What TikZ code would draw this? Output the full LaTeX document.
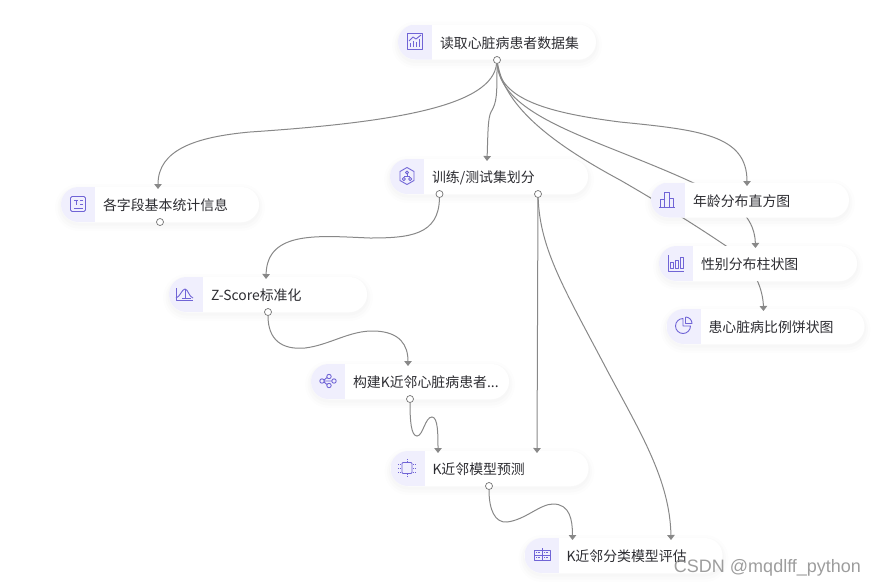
\documentclass[tikz,border=0pt]{standalone}
\usepackage{fontspec}
\usepackage{xcolor}
\usepackage{tikz}
\usetikzlibrary{arrows.meta, calc}
\newfontfamily\cjkfont{Noto Sans CJK SC}
\newfontfamily\markfont{Liberation Sans}
\definecolor{myink}{RGB}{45,45,50}
\definecolor{myedge}{RGB}{136,136,136}
\definecolor{iconbg}{RGB}{240,239,253}
\definecolor{iconline}{RGB}{112,100,214}
\definecolor{markgray}{RGB}{140,140,140}
\tikzset{
  pill/.style={rectangle, fill=white, rounded corners=17.5pt,
    minimum width=198pt, minimum height=35pt, inner ysep=0pt, inner xsep=6pt,
    text width=186pt, align=left, text=myink,
    text height=14pt, text depth=2pt,
    font=\cjkfont\fontsize{13.9}{16}\selectfont,
    execute at begin node={\hspace*{36pt}},
    preaction={draw=black, draw opacity=.008, line width=12pt, transform canvas={yshift=-3pt}},
    preaction={draw=black, draw opacity=.010, line width=7pt, transform canvas={yshift=-3pt}},
    preaction={draw=black, draw opacity=.012, line width=3pt, transform canvas={yshift=-2pt}},
    path picture={\fill[iconbg, sharp corners] ([xshift=34pt]path picture bounding box.south west)
      rectangle (path picture bounding box.north west);}},
  port/.style={circle, draw=black!55, fill=white, line width=.7pt,
    minimum size=7pt, inner sep=0pt},
  conn/.style={myedge, line width=1pt, -{Triangle[length=5pt,width=7.5pt]}},
  icon/.style={iconline, line width=.9pt, line join=round},
  watermark/.style={text=markgray, font=\markfont\fontsize{18}{20}\selectfont, opacity=.85}
}
\begin{document}
\begin{tikzpicture}[x=1pt,y=-1pt]
  \useasboundingbox (0,0) rectangle (875,587);
  % Source block
  \node[pill] (read) at (497,42) {读取心脏病患者数据集};
  \node[port] (readout) at (497,60) {};
  % These two lines run behind the chart blocks above their own target
  \node[pill] (pie) at (765.5,326.5) {患心脏病比例饼状图};
  \coordinate (piein) at (763.5,311);
  \draw[conn] (readout) .. controls (505,108) and (555,145) .. (620,180)
    .. controls (660,203) and (700,228) .. (735,252)
    .. controls (755,268) and (763,290) .. (piein);
  \node[pill] (gender) at (758,263.5) {性别分布柱状图};
  \coordinate (genderin) at (755.5,248);
  \draw[conn] (readout) .. controls (500,105) and (560,128) .. (620,152)
    .. controls (660,168) and (700,184) .. (730,202)
    .. controls (748,214) and (755,228) .. (genderin);
  % Other blocks
  \node[pill] (hist) at (750,200) {年龄分布直方图};
  \node[pill] (stats) at (160,204.5) {各字段基本统计信息};
  \node[pill] (split) at (489,176.5) {训练/测试集划分};
  \node[pill] (zscore) at (268,294.5) {Z-Score标准化};
  \node[pill] (build) at (410,381.5) {构建K近邻心脏病患者...};
  \node[pill] (predict) at (489.5,468.5) {K近邻模型预测};
  \node[pill] (eval) at (623.5,555.5) {K近邻分类模型评估};
  % Output ports
  \node[port] (statsout) at (160,222) {};
  \node[port] (splitleft) at (439.5,194) {};
  \node[port] (splitright) at (538,194) {};
  \node[port] (zscoreout) at (268,312) {};
  \node[port] (buildout) at (410,399) {};
  \node[port] (predictout) at (489,486) {};
  % Input points
  \coordinate (statsin) at (158,189);
  \coordinate (splitin) at (487,161);
  \coordinate (histin) at (747,186);
  \coordinate (zscorein) at (266,279);
  \coordinate (buildin) at (408,366);
  \coordinate (predictleft) at (438,453);
  \coordinate (predictright) at (537,453);
  \coordinate (evalleft) at (572.5,540);
  \coordinate (evalright) at (671,540);
  % Connectors
  \draw[conn] (readout) .. controls (492,105) and (400,122) .. (250,132)
    .. controls (195,137) and (158,150) .. (statsin);
  \draw[conn] (readout) .. controls (497,95) and (497,102) .. (491,112)
    .. controls (488,118) and (488,130) .. (splitin);
  \draw[conn] (readout) .. controls (500,100) and (550,113) .. (620,122)
    .. controls (700,130) and (747,135) .. (histin);
  \draw[conn] (splitleft) .. controls (439,235) and (410,238) .. (370,238)
    .. controls (320,236) and (267,230) .. (zscorein);
  \draw[conn] (zscoreout) .. controls (268,340) and (282,350) .. (305,348)
    .. controls (330,345) and (350,330) .. (375,331)
    .. controls (400,332) and (408,345) .. (buildin);
  \draw[conn] (buildout) .. controls (410,420) and (411,436) .. (417,436)
    .. controls (423,436) and (425,417) .. (432,417)
    .. controls (438,417) and (438,435) .. (predictleft);
  \draw[conn] (splitright) -- (predictright);
  \draw[conn] (splitright) .. controls (540,250) and (565,290) .. (607,370)
    .. controls (640,432) and (670,480) .. (evalright);
  \draw[conn] (predictout) .. controls (489,510) and (495,523) .. (507,522)
    .. controls (525,520) and (540,504) .. (553,504)
    .. controls (570,504) and (572.5,520) .. (evalleft);
  % Icons
  \begin{scope}[shift={(415,41)}, icon]
    \draw (-7.5,-8) rectangle (7.5,8);
    \draw (-5,6) -- (-5,2) (-2,6) -- (-2,0) (1,6) -- (1,1) (4,6) -- (4,-2);
    \draw (-6,0) -- (-2,-4) -- (1,-2) -- (6,-6);
  \end{scope}
  \begin{scope}[shift={(407,176)}, icon]
    \draw (0,-8.5) -- (7,-4.5) -- (7,4.5) -- (0,8.5) -- (-7,4.5) -- (-7,-4.5) -- cycle;
    \draw (0,-3.5) circle (1.6) (-3.2,3) circle (1.6) (3.2,3) circle (1.6);
    \draw (0,-2) -- (0,0) (-3,.8) -- (3,.8);
  \end{scope}
  \begin{scope}[shift={(78,204)}, icon]
    \draw[rounded corners=1.5pt] (-7.5,-7.5) rectangle (7.5,7.5);
    \draw (-4,-3.5) -- (0,-3.5) (-2,-3.5) -- (-2,1) (2,-3.5) -- (5,-3.5) (2,0) -- (5,0) (-4,4.5) -- (5,4.5);
  \end{scope}
  \begin{scope}[shift={(667,200)}, icon]
    \draw (-7,7) -- (-7,-1) -- (-3,-1) -- (-3,7);
    \draw (-3,7) -- (-3,-8) -- (2,-8) -- (2,7);
    \draw (2,-2) -- (6,-2) -- (6,7);
    \draw (-8,7.5) -- (8,7.5);
  \end{scope}
  \begin{scope}[shift={(676,263)}, icon]
    \draw (-8,-8) -- (-8,8) -- (8,8);
    \draw (-5.5,-1) rectangle (-2.5,5.5) (-.5,-3) rectangle (2.5,5.5) (4.5,-6) rectangle (7.5,5.5);
  \end{scope}
  \begin{scope}[shift={(684,325)}, icon]
    \draw (-1,-6.5) arc[start angle=-90, end angle=-360, radius=7.5] -- (-1,1) -- cycle;
    \draw (1.5,-8) -- (1.5,-1.5) -- (8,-1.5) arc[start angle=0, end angle=-90, radius=6.5];
  \end{scope}
  \begin{scope}[shift={(185,294)}, icon]
    \draw (-9,-6) -- (-9,6) -- (8,6);
    \draw (-9,4) .. controls (-5,3) and (-3,-5) .. (0,-5) .. controls (3,-5) and (4,3) .. (8,4);
    \draw (-3,4) -- (6,4);
    \draw[line width=.6pt] (0,-5) -- (0,4);
  \end{scope}
  \begin{scope}[shift={(328,381)}, icon]
    \draw (-6,0) circle (2.2) (1,-4.5) circle (2.2) (1,4.5) circle (2.2) (6,0) circle (2.2);
    \draw (-4,-1) -- (-1,-3.5) (-4,1) -- (-1,3.5) (-3.8,0) -- (3.8,0);
  \end{scope}
  \begin{scope}[shift={(407,468)}, icon]
    \draw[rounded corners=1pt] (-5,-5.5) rectangle (5,5.5);
    \draw[line width=.8pt, densely dotted] (-9,-4) -- (-6,-4) (-9,0) -- (-6,0) (-9,4) -- (-6,4)
      (6,-4) -- (9,-4) (6,0) -- (9,0) (6,4) -- (9,4) (0,-9) -- (0,-6) (0,6) -- (0,9);
  \end{scope}
  \begin{scope}[shift={(542,555)}, icon]
    \draw (-8,-5) rectangle (8,5);
    \draw (0,-7) -- (0,6) (-8,0) -- (8,0);
    \draw[line width=.6pt, densely dotted] (-6,-2.5) -- (-2,-2.5) (2,-2.5) -- (6,-2.5) (-6,2.5) -- (-2,2.5) (2,2.5) -- (6,2.5);
  \end{scope}
  % Watermark
  \node[watermark] (mark) at (767.5,568) {CSDN @mqdlff\_python};
\end{tikzpicture}
\end{document}
